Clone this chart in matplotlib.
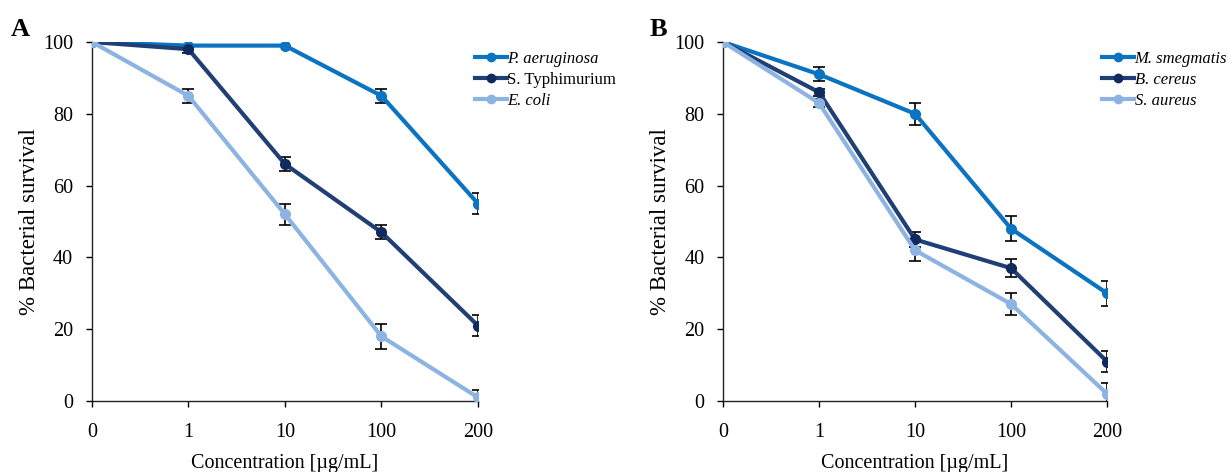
import numpy as np
import matplotlib.pyplot as plt
from matplotlib.lines import Line2D

plt.rcParams['font.family'] = ['Liberation Serif', 'DejaVu Serif']

conc_labels = ["0", "1", "10", "100", "200"]

# panel A
a_names = ["P. aeruginosa", "S. Typhimurium", "E. coli"]
a_italic = [True, False, True]
a_vals = [
    [100, 99, 99, 85, 55],
    [100, 98, 66, 47, 21],
    [100, 85, 52, 18, 1],
]
a_err = [
    [0, 0, 0, 2, 3],
    [0, 1, 2, 2, 3],
    [0, 2, 3, 3.5, 2],
]

# panel B
b_names = ["M. smegmatis", "B. cereus", "S. aureus"]
b_italic = [True, True, True]
b_vals = [
    [100, 91, 80, 48, 30],
    [100, 86, 45, 37, 11],
    [100, 83, 42, 27, 2],
]
b_err = [
    [0, 2, 3, 3.5, 3.5],
    [0, 1, 2, 2.5, 3],
    [0, 1, 3, 3, 3],
]

line_colors = ["#0A73C2", "#1F3F75", "#8DB3E2"]
marker_colors = ["#0A73C2", "#0E2A5E", "#8DB3E2"]

fig = plt.figure(figsize=(12.28, 4.72), dpi=100)
ax_a = fig.add_axes([0.0749, 0.1504, 0.3143, 0.7606])
ax_b = fig.add_axes([0.5888, 0.1504, 0.3127, 0.7606])


def draw_panel(ax, names, italic, vals, errs, letter, letter_x, leg_x):
    x = np.arange(len(conc_labels))
    handles = []
    for i in range(len(names)):
        ax.errorbar(x, vals[i], yerr=errs[i], color=line_colors[i], lw=3,
                    marker='o', ms=7, mfc=marker_colors[i], mec=marker_colors[i],
                    ecolor='black', elinewidth=1.2, capsize=4, capthick=1.2,
                    zorder=3)
        handles.append(Line2D([], [], color=line_colors[i], lw=3, marker='o', ms=6,
                              mfc=marker_colors[i], mec=marker_colors[i]))
    ax.set_xlim(0, 4)
    ax.set_ylim(0, 100)
    ax.set_xticks(x)
    ax.set_xticklabels(conc_labels)
    ax.set_yticks(range(0, 101, 20))
    ax.tick_params(labelsize=14.5, length=4.5, width=1, direction='out')
    ax.tick_params(axis='x', pad=11)
    ax.tick_params(axis='y', pad=9)
    ax.spines['top'].set_visible(False)
    ax.spines['right'].set_visible(False)
    for sp in ax.spines.values():
        sp.set_linewidth(1.0)
        sp.set_color('#222222')
    ax.set_xlabel("Concentration [µg/mL]", fontsize=14.5, labelpad=9)
    ax.set_ylabel("% Bacterial survival", fontsize=16.5, labelpad=2)
    leg = ax.legend(handles, names, loc='upper left', bbox_to_anchor=(leg_x, 0.975),
                    frameon=False, fontsize=12, handlelength=1.9,
                    handletextpad=0.05, labelspacing=0.3, borderaxespad=0,
                    borderpad=0)
    for t, it in zip(leg.get_texts(), italic):
        if it:
            t.set_style('italic')
    fig.text(letter_x, 0.924, letter, fontsize=19, fontweight='bold', va='baseline')


draw_panel(ax_a, a_names, a_italic, a_vals, a_err, "A", 0.009, 0.992)
draw_panel(ax_b, b_names, b_italic, b_vals, b_err, "B", 0.529, 0.987)

fig.savefig("out.png", dpi=100)
